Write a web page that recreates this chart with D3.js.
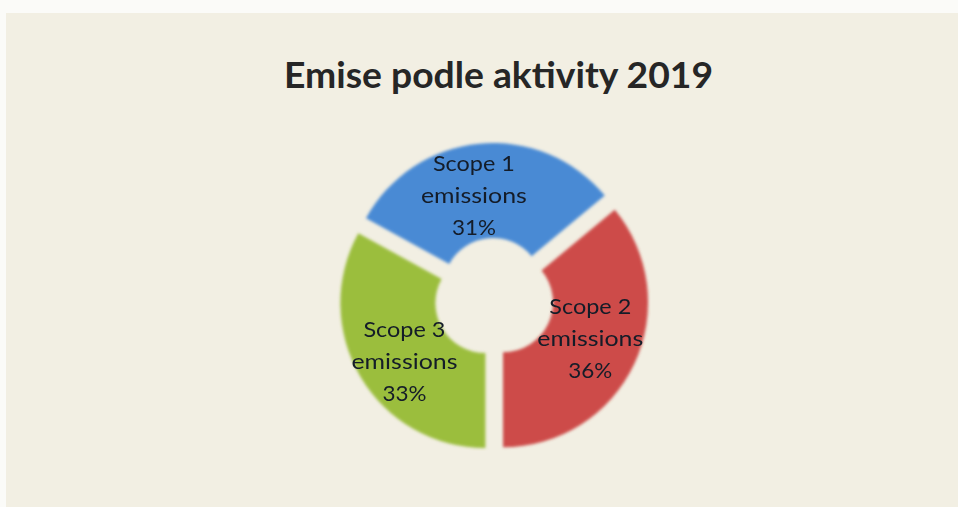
<!DOCTYPE html>
<html>
<head>
<meta charset="utf-8">
<script src="https://cdn.jsdelivr.net/npm/d3@7"></script>
<style>
  html, body { margin: 0; padding: 0; background: #fbfbf8; }
  svg { display: block; }
</style>
</head>
<body>
<svg id="chart" width="958" height="507"></svg>
<script>
// Scanned doughnut chart: emissions by scope, 2019.
const TITLE = "Emise podle aktivity 2019";
const categories = ["Scope 1", "Scope 2", "Scope 3"];
const subLabel = "emissions";
const shares = [31, 36, 33];
const colors = ["#4a8ad4", "#cd4b48", "#9bbe3c"];

const W = 958, H = 507;
const cx = 494, cy = 298;
const outerR = 145, innerR = 50;
const explode = 10;
const firstSliceDeg = -61.2;
// Excel nudged the label boxes a little off the slice centroids
const labelNudge = [[-10, 4], [-1, -6], [3, 8]];

const svg = d3.select("#chart");

// paper background (beige scan area, white margin top/left)
svg.append("rect")
  .attr("x", 6).attr("y", 13)
  .attr("width", W - 6).attr("height", H - 13)
  .attr("fill", "#f2efe3");

const defs = svg.append("defs");
defs.append("filter").attr("id", "soft")
  .attr("x", "-10%").attr("y", "-10%").attr("width", "120%").attr("height", "120%")
  .append("feGaussianBlur").attr("stdDeviation", 1.5);

// title
svg.append("text")
  .attr("x", 284).attr("y", 88)
  .attr("textLength", 429)
  .attr("lengthAdjust", "spacingAndGlyphs")
  .attr("font-family", "Lato, 'Open Sans', sans-serif")
  .attr("font-weight", 700)
  .attr("font-size", 36)
  .attr("fill", "#262626")
  .text(TITLE);

const start = firstSliceDeg * Math.PI / 180;
const pie = d3.pie().sort(null).value(d => d)
  .startAngle(start).endAngle(start + 2 * Math.PI);
const arcs = pie(shares);

const arc = d3.arc().innerRadius(innerR).outerRadius(outerR);
const labelArc = d3.arc().innerRadius((innerR + outerR) / 2).outerRadius((innerR + outerR) / 2);

// offset of an exploded slice along its bisector
function shift(d, dist) {
  const a = (d.startAngle + d.endAngle) / 2;
  return [Math.sin(a) * dist, -Math.cos(a) * dist];
}

const g = svg.append("g").attr("transform", `translate(${cx},${cy})`);

g.append("g").attr("filter", "url(#soft)")
  .selectAll("path")
  .data(arcs)
  .join("path")
  .attr("d", arc)
  .attr("transform", d => `translate(${shift(d, explode)})`)
  .attr("fill", (d, i) => colors[i]);

// data labels: category / "emissions" / percent
const lineGap = 32;
const lbl = g.selectAll("g.lbl")
  .data(arcs)
  .join("g")
  .attr("class", "lbl")
  .attr("transform", (d, i) => {
    const c = labelArc.centroid(d);
    const s = shift(d, explode);
    return `translate(${c[0] + s[0] + labelNudge[i][0]},${c[1] + s[1] + labelNudge[i][1]})`;
  });

lbl.each(function (d, i) {
  const lines = [categories[i], subLabel, d3.format(".0%")(shares[i] / d3.sum(shares))];
  const widths = [82, 106, 44];
  d3.select(this).selectAll("text")
    .data(lines)
    .join("text")
    .attr("x", 0)
    .attr("y", (t, k) => (k - 1) * lineGap + 8)
    .attr("text-anchor", "middle")
    .attr("textLength", (t, k) => widths[k])
    .attr("lengthAdjust", "spacingAndGlyphs")
    .attr("font-family", "Lato, 'Open Sans', sans-serif")
    .attr("font-size", 21)
    .attr("fill", "#141c28")
    .text(t => t);
});
</script>
</body>
</html>
